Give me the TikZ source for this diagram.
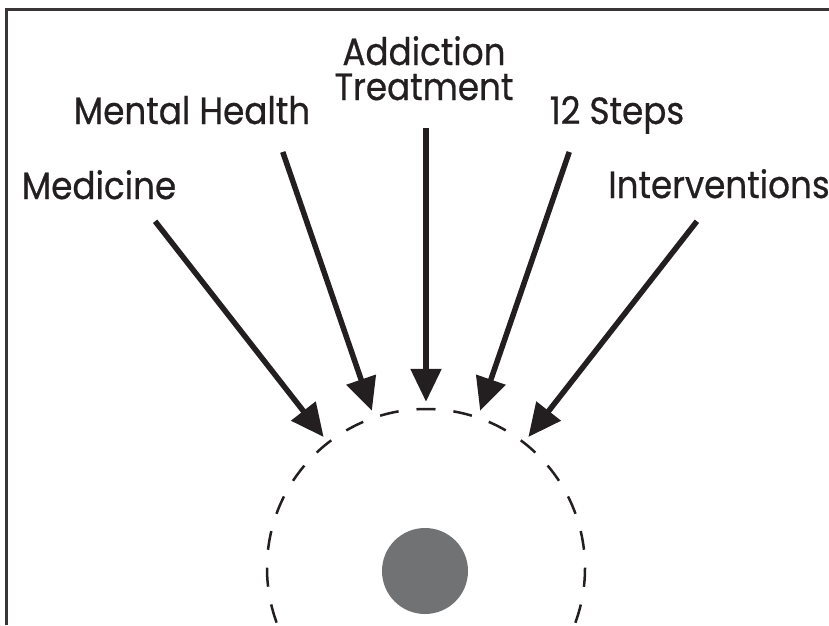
\documentclass[tikz,border=0pt]{standalone}
\usepackage{fontspec}
\setmainfont{Poppins}[FakeStretch=0.9,FakeBold=0.6]
\usetikzlibrary{arrows.meta,calc}

\definecolor{ink}{RGB}{35,31,32}
\definecolor{dotgray}{RGB}{113,114,116}

\begin{document}
\begin{tikzpicture}[
x=1pt,y=-1pt,
field/.style={text=ink,font=\fontsize{38}{35}\selectfont,inner sep=0pt,anchor=base},
arr/.style={draw=ink,line width=5.5pt,-{Triangle[length=33pt,width=30pt]},shorten >=6pt},
]
\useasboundingbox (0,0) rectangle (829,625);
\draw[ink!90,line width=3pt] (6,625) -- (6,9) -- (829,9);

\node[circle,draw=ink,line width=2.5pt,dash pattern=on 19pt off 18pt,dash phase=18.7pt,
  minimum size=318pt,inner sep=0pt] (zone) at (426,568) {};
\node[circle,fill=dotgray,minimum size=86pt,inner sep=0pt] (dot) at (425,571) {};

\node[field] (med) at (99,199) {Medicine};
\node[field] (mh) at (192,124) {Mental Health};
\node[field,align=center] (add) at (424,100) {Addiction\\Treatment};
\node[field] (steps) at (617,124) {12 Steps};
\node[field] (int) at (719,198) {Interventions};

\coordinate (smed) at ($(zone.center)+(128:440pt)$);
\coordinate (smh) at ($(zone.center)+(109:440pt)$);
\coordinate (sadd) at ($(zone.center)+(90:440pt)$);
\coordinate (ssteps) at ($(zone.center)+(71:440pt)$);
\coordinate (sint) at ($(zone.center)+(52:440pt)$);

\draw[arr] (smed) -- (zone);
\draw[arr] (smh) -- (zone);
\draw[arr] (sadd) -- (zone);
\draw[arr] (ssteps) -- (zone);
\draw[arr] (sint) -- (zone);

\end{tikzpicture}
\end{document}
